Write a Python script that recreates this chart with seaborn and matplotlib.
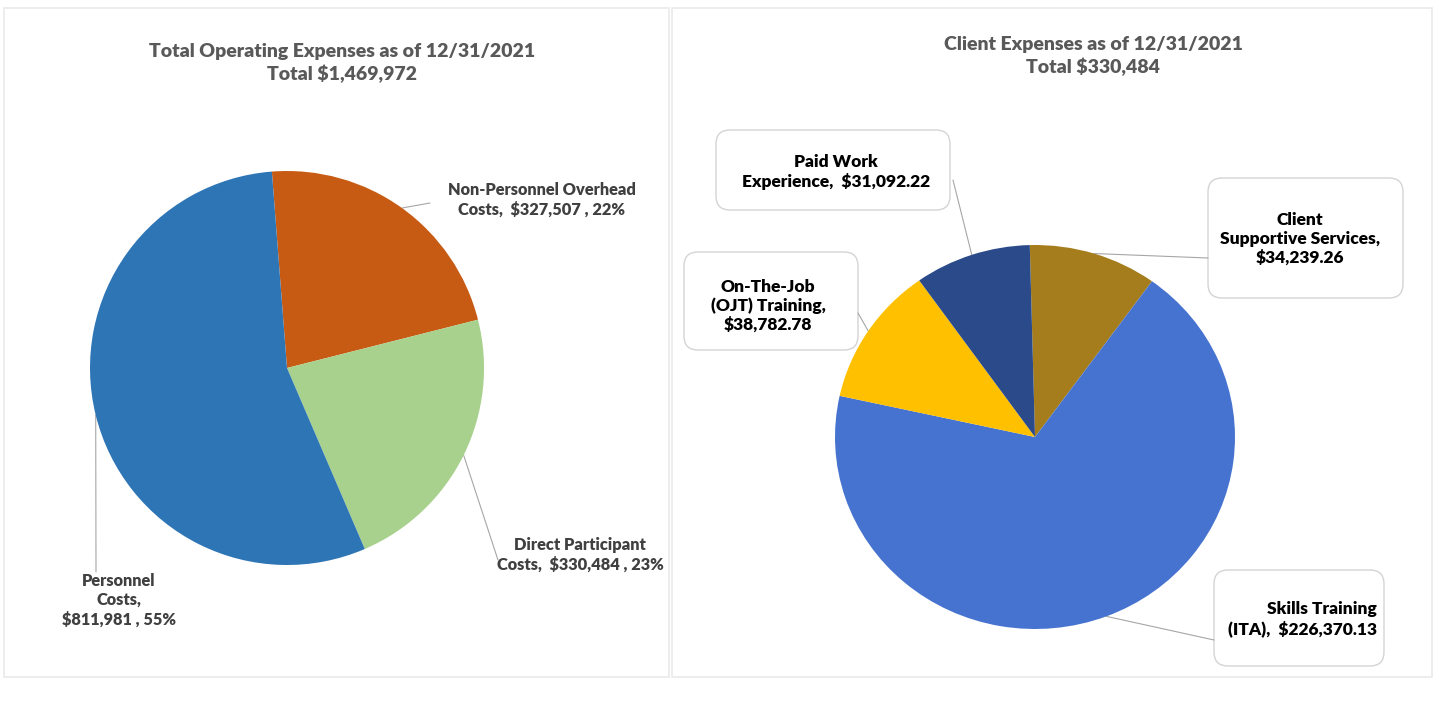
"""Two Excel-style expense pies side by side, recreated with seaborn/matplotlib."""

import numpy as np
import matplotlib
matplotlib.use("Agg")
import matplotlib.pyplot as plt
from matplotlib.patches import FancyBboxPatch, Rectangle
import seaborn as sns

# =============================================================================
# DATA
# =============================================================================

LEFT_TITLE = "Total Operating Expenses as of 12/31/2021\nTotal $1,469,972"
LEFT_CATEGORIES = ["Non-Personnel Overhead Costs", "Direct Participant Costs", "Personnel Costs"]
LEFT_VALUES = [327507, 330484, 811981]
LEFT_PCT_LABELS = ["22%", "23%", "55%"]
LEFT_LABEL_TEXT = [
    "Non-Personnel Overhead\nCosts,  $327,507 , 22%",
    "Direct Participant\nCosts,  $330,484 , 23%",
    "Personnel\nCosts,\n$811,981 , 55%",
]

RIGHT_TITLE = "Client Expenses as of 12/31/2021\nTotal $330,484"
RIGHT_CATEGORIES = [
    "Client Supportive Services",
    "Skills Training (ITA)",
    "On-The-Job (OJT) Training",
    "Paid Work Experience",
]
RIGHT_VALUES = [34239.26, 226370.13, 38782.78, 31092.22]
RIGHT_LABEL_TEXT = [
    "Client\nSupportive Services,\n$34,239.26",
    "Skills Training\n(ITA),  $226,370.13",
    "On-The-Job\n(OJT) Training,\n$38,782.78",
    "Paid Work\nExperience,  $31,092.22",
]

# =============================================================================
# STYLE / LAYOUT (reference pixel coords, y measured from top)
# =============================================================================

W, H = 1439, 704
LEFT_COLORS = ["#C75B14", "#A9D18E", "#2E75B6"]
RIGHT_COLORS = ["#A57D1C", "#4673CF", "#FFC000", "#2B4A8A"]

LEFT_CENTER, LEFT_R, LEFT_START = (287, 368), (197, 197), 94.4
RIGHT_CENTER, RIGHT_R, RIGHT_START = (1035, 437), (200, 192), 91.5

FONT = ["Lato", "DejaVu Sans"]
FS_TITLE = 14
FS_LEFT = 11.8
FS_RIGHT = 12.5

# label anchor (x, y) + leader end point on the label side
LEFT_LABEL_POS = [(542, 200), (580, 555), (119, 600)]
LEFT_LEADER_END = [(430, 203), (498, 560), (96, 572)]

RIGHT_BOXES = [(1208, 178, 1403, 298), (1214, 570, 1384, 666),
               (684, 252, 858, 350), (716, 130, 950, 210)]
RIGHT_LABEL_POS = [(1300, 239, "center"), (1377, 619, "right"),
                   (768, 306, "center"), (836, 172, "center")]
RIGHT_LEADER_END = [(1208, 258), (1214, 640), (858, 313), (953, 180)]


def Y(y):
    return H - y


def make_pie_axes(fig, center, radius):
    cx, cy = center
    rx, ry = radius
    return fig.add_axes([(cx - rx) / W, (H - cy - ry) / H, 2 * rx / W, 2 * ry / H])


def draw_pie(ax, values, colors, start):
    wedges, _ = ax.pie(values, colors=colors, startangle=start, counterclock=False,
                       radius=1.0, wedgeprops=dict(linewidth=0))
    ax.set_xlim(-1, 1)
    ax.set_ylim(-1, 1)
    ax.set_aspect("auto")
    ax.axis("off")
    return wedges


def wedge_mid_px(ax, wedge):
    """Mid-angle point of a wedge edge, in overlay (pixel, y-up) coords."""
    ang = np.deg2rad((wedge.theta1 + wedge.theta2) / 2)
    return ax.transData.transform((np.cos(ang), np.sin(ang)))


def main():
    sns.set_theme(style="white")
    plt.rcParams["font.family"] = FONT

    fig = plt.figure(figsize=(W / 100, H / 100), dpi=100)
    fig.patch.set_facecolor("white")

    overlay = fig.add_axes([0, 0, 1, 1])
    overlay.set_xlim(0, W)
    overlay.set_ylim(0, H)
    overlay.axis("off")

    # panel frames
    for x0, x1 in [(4, 669), (672, 1432)]:
        overlay.add_patch(Rectangle((x0, Y(677)), x1 - x0, 677 - 8, fill=False,
                                    edgecolor="#EAEAEA", linewidth=1.2))

    ax_left = make_pie_axes(fig, LEFT_CENTER, LEFT_R)
    ax_right = make_pie_axes(fig, RIGHT_CENTER, RIGHT_R)
    left_wedges = draw_pie(ax_left, LEFT_VALUES, LEFT_COLORS, LEFT_START)
    right_wedges = draw_pie(ax_right, RIGHT_VALUES, RIGHT_COLORS, RIGHT_START)
    fig.canvas.draw()

    # titles
    overlay.text(342, Y(63), LEFT_TITLE, ha="center", va="center", fontsize=FS_TITLE,
                 fontweight="heavy", color="#595959", linespacing=1.35)
    overlay.text(1093, Y(56), RIGHT_TITLE, ha="center", va="center", fontsize=FS_TITLE,
                 fontweight="heavy", color="#595959", linespacing=1.35)

    # left labels + leaders
    for wedge, text, pos, end in zip(left_wedges, LEFT_LABEL_TEXT, LEFT_LABEL_POS, LEFT_LEADER_END):
        sx, sy = wedge_mid_px(ax_left, wedge)
        overlay.plot([sx, end[0]], [sy, Y(end[1])], color="#A6A6A6", linewidth=0.8)
        overlay.text(pos[0], Y(pos[1]), text, ha="center", va="center", fontsize=FS_LEFT,
                     fontweight="heavy", color="#404040", multialignment="center",
                     linespacing=1.25)

    # right labels in rounded boxes + leaders
    for wedge, text, box, pos, end in zip(right_wedges, RIGHT_LABEL_TEXT, RIGHT_BOXES,
                                          RIGHT_LABEL_POS, RIGHT_LEADER_END):
        sx, sy = wedge_mid_px(ax_right, wedge)
        overlay.plot([sx, end[0]], [sy, Y(end[1])], color="#A6A6A6", linewidth=0.8)
        x0, y0, x1, y1 = box
        overlay.add_patch(FancyBboxPatch((x0, Y(y1)), x1 - x0, y1 - y0,
                                         boxstyle="round,pad=0,rounding_size=14",
                                         facecolor="white", edgecolor="#D4D4D4",
                                         linewidth=1.0))
        tx, ty, align = pos
        overlay.text(tx, Y(ty), text, ha=align, va="center", fontsize=FS_RIGHT,
                     fontweight="heavy", color="black", multialignment=align,
                     linespacing=1.2)

    fig.savefig("out.png", dpi=100, facecolor="white")
    plt.close(fig)


if __name__ == "__main__":
    main()
